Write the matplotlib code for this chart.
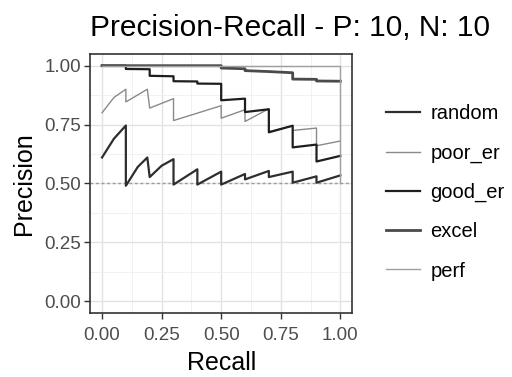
import matplotlib.pyplot as plt
from matplotlib.ticker import MultipleLocator

plt.rcParams['font.family'] = ['Liberation Sans', 'DejaVu Sans']

random_x = [0.0, 0.05, 0.1, 0.1, 0.15, 0.19, 0.2, 0.25, 0.3, 0.3, 0.4, 0.4, 0.5, 0.5, 0.6, 0.6, 0.7, 0.7, 0.8, 0.8, 0.9, 0.9, 1.0]
random_y = [0.61, 0.69, 0.746, 0.49, 0.57, 0.61, 0.527, 0.575, 0.603, 0.495, 0.56, 0.495, 0.55, 0.495, 0.54, 0.517, 0.553, 0.527, 0.55, 0.503, 0.53, 0.503, 0.534]

poor_x = [0.0, 0.05, 0.1, 0.1, 0.19, 0.2, 0.3, 0.3, 0.5, 0.5, 0.6, 0.6, 0.7, 0.7, 0.8, 0.8, 0.9, 0.9, 1.0]
poor_y = [0.80, 0.865, 0.90, 0.846, 0.90, 0.82, 0.86, 0.767, 0.83, 0.777, 0.813, 0.763, 0.817, 0.72, 0.745, 0.725, 0.735, 0.66, 0.68]

good_x = [0.0, 0.1, 0.1, 0.2, 0.2, 0.3, 0.3, 0.4, 0.4, 0.5, 0.5, 0.6, 0.6, 0.7, 0.7, 0.8, 0.8, 0.9, 0.9, 1.0]
good_y = [1.0, 1.0, 0.986, 0.985, 0.957, 0.955, 0.934, 0.933, 0.924, 0.923, 0.853, 0.86, 0.803, 0.815, 0.717, 0.745, 0.653, 0.665, 0.593, 0.617]

excel_x = [0.0, 0.5, 0.5, 0.6, 0.6, 0.7, 0.8, 0.8, 0.9, 0.9, 1.0]
excel_y = [1.0, 1.0, 0.99, 0.987, 0.979, 0.975, 0.97, 0.943, 0.942, 0.935, 0.934]

perf_x = [0.0, 1.0, 1.0]
perf_y = [1.0, 1.0, 0.5]

labels = ["random", "poor_er", "good_er", "excel", "perf"]
colors = ["#2e2e2e", "#8a8a8a", "#1e1e1e", "#4a4a4a", "#a0a0a0"]
widths = [1.6, 1.0, 1.6, 2.0, 1.0]

fig = plt.figure(figsize=(5.12, 3.77), dpi=100)
ax = fig.add_axes([0.176, 0.17, 0.512, 0.687])

series = [(random_x, random_y), (poor_x, poor_y), (good_x, good_y),
          (excel_x, excel_y), (perf_x, perf_y)]
for (xs, ys), lab, c, w in zip(series, labels, colors, widths):
    ax.plot(xs, ys, color=c, lw=w, label=lab, zorder=3)

ax.axhline(0.5, color="#9a9a9a", lw=1.0, ls=(0, (2, 2)), zorder=2)

ax.set_xlim(-0.05, 1.05)
ax.set_ylim(-0.05, 1.05)
ax.xaxis.set_major_locator(MultipleLocator(0.25))
ax.yaxis.set_major_locator(MultipleLocator(0.25))
ax.xaxis.set_minor_locator(MultipleLocator(0.125))
ax.yaxis.set_minor_locator(MultipleLocator(0.125))
ax.grid(which="major", color="#e2e2e2", lw=1.0)
ax.grid(which="minor", color="#efefef", lw=0.6)
ax.set_axisbelow(True)
ax.xaxis.set_major_formatter(lambda v, p: f"{v:.2f}")
ax.yaxis.set_major_formatter(lambda v, p: f"{v:.2f}")
ax.tick_params(which="minor", length=0)
ax.tick_params(which="major", length=4.5, width=1, color="#333333", labelsize=13.5,
               labelcolor="#4d4d4d")
ax.tick_params(axis="x", pad=6)
ax.tick_params(axis="y", pad=2)
for s in ax.spines.values():
    s.set_color("#333333")
    s.set_linewidth(1.2)

ax.set_xlabel("Recall", fontsize=18, labelpad=5)
ax.set_ylabel("Precision", fontsize=18, labelpad=6)
fig.text(0.176, 0.905, "Precision-Recall - P: 10, N: 10", fontsize=21.5, ha="left", va="baseline")

ax.legend(loc="center left", bbox_to_anchor=(1.06, 0.465), frameon=False, fontsize=14.5,
          handlelength=1.7, labelspacing=1.0, handletextpad=0.5)

fig.savefig("out.png", dpi=100)
